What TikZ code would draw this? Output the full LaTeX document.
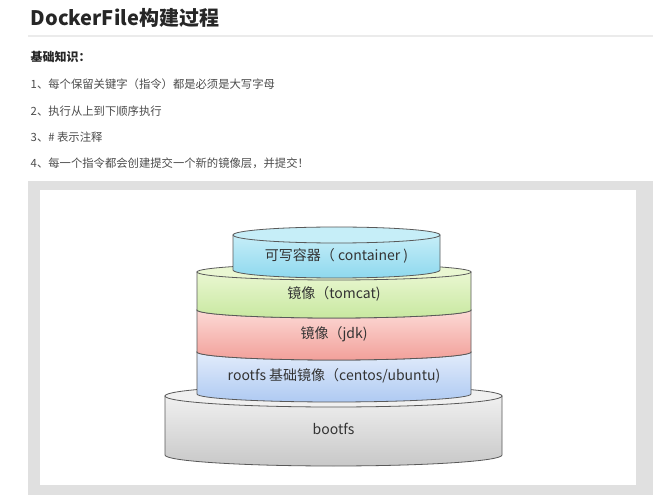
\documentclass[tikz,border=0pt]{standalone}
\usepackage{fontspec}
\setmainfont{Noto Sans CJK SC}
\usetikzlibrary{positioning}
\definecolor{contTop}{HTML}{C6EEF8}\definecolor{contBot}{HTML}{8ED8EE}
\definecolor{tomTop}{HTML}{EAF7D2}\definecolor{tomBot}{HTML}{C8E8A0}
\definecolor{jdkTop}{HTML}{FCDAD6}\definecolor{jdkBot}{HTML}{F2A09A}
\definecolor{rootTop}{HTML}{E2ECFB}\definecolor{rootBot}{HTML}{AFCAF2}
\definecolor{bootTop}{HTML}{F0F0F0}\definecolor{bootBot}{HTML}{C8C8C8}
% one layer of the stack: x1, x2, y top, y bottom, y radius, top colour, bottom colour, text
\newcommand\layer[8]{%
  \pgfmathsetmacro\cx{(#1+#2)/2}\pgfmathsetmacro\rx{(#2-#1)/2}
  \draw[layerline, top color=#6, bottom color=#7] (#1,#3) -- (#1,#4)
    arc[start angle=180, end angle=360, x radius=\rx, y radius=#5] -- (#2,#3) -- cycle;
  \draw[layerline, fill=#6] (\cx,#3) ellipse[x radius=\rx, y radius=#5];
  \node[layertext] at (\cx,{(#3+#4)/2-3}) {#8};}
\begin{document}
\begin{tikzpicture}[x=0.75pt,y=0.75pt,
  layerline/.style={draw=black!65, line width=0.6pt},
  layertext/.style={font=\fontsize{10.5}{12}\selectfont, text=black!80},
  itemtext/.style={font=\fontsize{8.5}{10}\selectfont, text=black!70, anchor=west}]
\useasboundingbox (0,0) rectangle (653,500);
\fill[white] (0,0) rectangle (653,500);
  %Cabeçalho
\node[anchor=west, font=\bfseries\fontsize{15}{18}\selectfont, text=black!85] (title) at (26,482) {DockerFile构建过程};
\draw[black!8, line width=1pt] (28,464) -- (653,464);
\node[anchor=west, font=\bfseries\fontsize{9}{11}\selectfont, text=black!85] (basics) at (26,443) {基础知识：};
\node[itemtext] (item1) at (26,416) {1、每个保留关键字（指令）都是必须是大写字母};
\node[itemtext] (item2) at (26,389) {2、执行从上到下顺序执行};
\node[itemtext] (item3) at (26,363) {3、\# 表示注释};
\node[itemtext] (item4) at (26,337) {4、每一个指令都会创建提交一个新的镜像层，并提交！};
  %Moldura
\fill[black!12] (28,5) rectangle (653,319);
\fill[white] (40,15) rectangle (636,310);
  %Camadas
\layer{165}{502}{104}{45}{11}{bootTop}{bootBot}{bootfs}
\layer{197}{471}{148}{106}{8}{rootTop}{rootBot}{rootfs 基础镜像（centos/ubuntu)}
\layer{197}{471}{190}{148}{8}{jdkTop}{jdkBot}{镜像（jdk)}
\layer{197}{471}{228}{190}{8}{tomTop}{tomBot}{镜像（tomcat)}
\layer{233}{440}{265}{230}{8}{contTop}{contBot}{可写容器（ container )}
\end{tikzpicture}
\end{document}
